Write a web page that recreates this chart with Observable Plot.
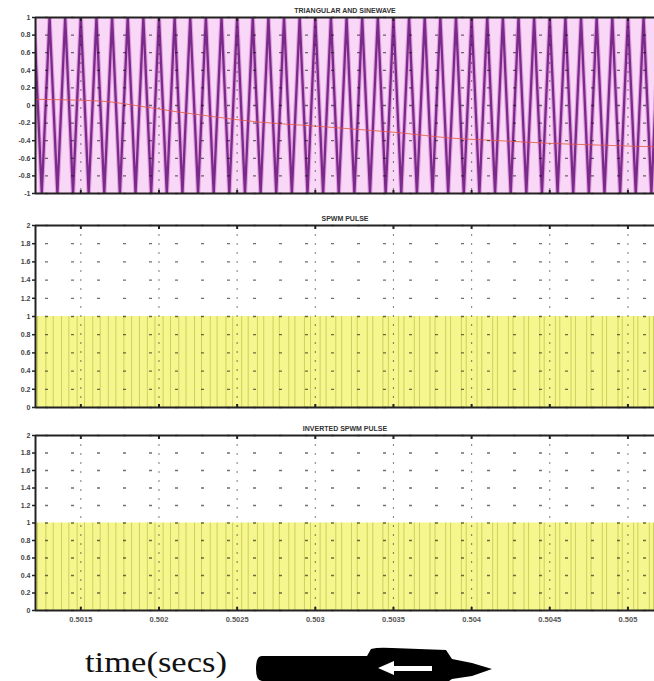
<!DOCTYPE html>
<html><head><meta charset="utf-8">
<script src="https://cdn.jsdelivr.net/npm/d3@7"></script>
<script src="https://cdn.jsdelivr.net/npm/@observablehq/plot@0.6"></script>
<style>
body{margin:0;background:#fff;width:654px;height:681px;overflow:hidden;font-family:"Liberation Sans",Arial,sans-serif}
#wrap{position:relative;width:654px;height:681px;overflow:hidden}
.panel{position:absolute;left:0}
.panel svg{display:block;overflow:visible}
</style></head><body><div id="wrap">
<div id="p1" class="panel" style="top:0"></div>
<div id="p2" class="panel" style="top:205px"></div>
<div id="p3" class="panel" style="top:415px"></div>
<svg id="foot" width="654" height="46" style="position:absolute;left:0;top:635px">
  <text x="85" y="37" font-family="'Liberation Serif','DejaVu Serif',serif" font-size="29" textLength="142" lengthAdjust="spacingAndGlyphs" fill="#111">time(secs)</text>
  <path d="M262,21 L367,21 L371,14 Q378,12 392,13 L446,15 L452,24 L472,28 L492,34 L472,41 L452,44 L446,48 L372,48 L367,46 L262,46 Q256,46 256,34 Q256,21 262,21 Z" fill="#000"/>
  <path d="M378,33 L394,26 L394,31 L432,31 L432,36 L394,36 L394,40 Z" fill="#fff"/>
</svg>
</div>
<script>
// ---------------- data ----------------
const titles = ["TRIANGULAR AND SINEWAVE", "SPWM PULSE", "INVERTED SPWM PULSE"];
const timeDomain = [0.50121, 0.50517];
const xTicks = [0.5015, 0.502, 0.5025, 0.503, 0.5035, 0.504, 0.5045, 0.505];
const xTickLabels = ["0.5015", "0.502", "0.5025", "0.503", "0.5035", "0.504", "0.5045", "0.505"];

const yTicksCarrier = [-1, -0.8, -0.6, -0.4, -0.2, 0, 0.2, 0.4, 0.6, 0.8, 1];
const yLabelsCarrier = ["-1", "-0.8", "-0.6", "-0.4", "-0.2", "0", "0.2", "0.4", "0.6", "0.8", "1"];
const yTicksPulse = [0, 0.2, 0.4, 0.6, 0.8, 1, 1.2, 1.4, 1.6, 1.8, 2];
const yLabelsPulse = ["0", "0.2", "0.4", "0.6", "0.8", "1", "1.2", "1.4", "1.6", "1.8", "2"];

// triangular carrier: times of the +1 peaks and -1 troughs
const carrierPeakTimes = [0.5012,0.5013,0.5014,0.5015,0.5016,0.5017,0.5018,0.5019,0.5020,0.5021,0.5022,0.5023,0.5024,0.5025,0.5026,0.5027,0.5028,0.5029,0.5030,0.5031,0.5032,0.5033,0.5034,0.5035,0.5036,0.5037,0.5038,0.5039,0.5040,0.5041,0.5042,0.5043,0.5044,0.5045,0.5046,0.5047,0.5048,0.5049,0.5050,0.5051,0.5052];
const carrierTroughTimes = [0.50125,0.50135,0.50145,0.50155,0.50165,0.50175,0.50185,0.50195,0.50205,0.50215,0.50225,0.50235,0.50245,0.50255,0.50265,0.50275,0.50285,0.50295,0.50305,0.50315,0.50325,0.50335,0.50345,0.50355,0.50365,0.50375,0.50385,0.50395,0.50405,0.50415,0.50425,0.50435,0.50445,0.50455,0.50465,0.50475,0.50485,0.50495,0.50505,0.50515];

// sine reference (red line)
const refTimes  = [0.50121, 0.50163, 0.50185, 0.50211, 0.50236, 0.50265, 0.50297, 0.50326, 0.50354, 0.50386, 0.50418, 0.50450, 0.50482, 0.50517];
const refValues = [0.07,    0.05,    0.0,     -0.07,   -0.13,   -0.19,   -0.23,   -0.27,   -0.31,   -0.37,   -0.40,   -0.43,   -0.45,   -0.47];

// ---------------- derived tables ----------------
const carrier = [
  ...carrierPeakTimes.map(t => ({t, v: 1})),
  ...carrierTroughTimes.map(t => ({t, v: -1}))
].sort((a, b) => a.t - b.t);
const ref = refTimes.map((t, i) => ({t, v: refValues[i]}));
const refAt = d3.scaleLinear().domain(refTimes).range(refValues);
// switching instants: where the reference crosses each carrier slope
const edges = [];
for (let i = 0; i < carrier.length - 1; i++) {
  const a = carrier[i], b = carrier[i + 1];
  const r = refAt((a.t + b.t) / 2);
  edges.push(a.t + (r - a.v) / (b.v - a.v) * (b.t - a.t));
}
const band = [{x1: carrier[0].t, x2: carrier[carrier.length - 1].t}];

const lab = (ticks, labels) => d => labels[ticks.findIndex(v => Math.abs(v - d) < 1e-9)];
const FONT = "'Liberation Sans', Arial, sans-serif";
const gridYStyle = {stroke: "#111", strokeOpacity: 0.6, strokeDasharray: "3,23", strokeDashoffset: -10, strokeWidth: 1.3};
const gridXStyle = {stroke: "#111", strokeOpacity: 0.5, strokeDasharray: "2,7", strokeWidth: 1.1};

function frameMarks(yDomain, yTicks, yLabels, title, showX) {
  return [
    Plot.gridY(yTicks, gridYStyle),
    Plot.gridX(xTicks, gridXStyle),
    Plot.ruleY([yDomain[0], yDomain[1]], {stroke: "#222", strokeWidth: 2}),
    Plot.ruleX([timeDomain[0]], {stroke: "#222", strokeWidth: 2}),
    Plot.axisY(yTicks, {tickFormat: lab(yTicks, yLabels), tickSize: 3, tickPadding: 2, fontSize: 7, fontWeight: "bold", fill: "#444", stroke: "#222", strokeWidth: 1.5, label: null}),
    Plot.axisX(xTicks, {anchor: "top", tickSize: -3, tickFormat: () => "", stroke: "#222", strokeWidth: 2, label: null}),
    Plot.axisX(xTicks, {anchor: "bottom", tickSize: -3, tickFormat: () => "", stroke: "#222", strokeWidth: 2, label: null}),
    showX ? Plot.axisX(xTicks, {anchor: "bottom", tickFormat: lab(xTicks, xTickLabels), tickSize: 0, tickPadding: 6, fontSize: 7.5, fontWeight: "bold", fill: "#555", label: null}) : null,
    Plot.text([title], {text: d => d, frameAnchor: "top", dy: -9, fontSize: 7, fontWeight: "bold", fill: "#333", fontFamily: FONT, letterSpacing: 0.6})
  ];
}

// panel 1
const p1 = Plot.plot({
  width: 654, height: 205, marginLeft: 35, marginRight: 0, marginTop: 17, marginBottom: 12,
  style: {fontFamily: FONT, background: "transparent"},
  x: {type: "linear", domain: timeDomain, axis: null},
  y: {type: "linear", domain: [-1, 1], axis: null},
  marks: [
    Plot.frame({fill: "#f8d8f6", stroke: null}),
    Plot.line(carrier, {x: "t", y: "v", stroke: "#e2a0e0", strokeWidth: 4.5, clip: true}),
    Plot.line(carrier, {x: "t", y: "v", stroke: "#7a2a88", strokeWidth: 2.3, clip: true}),
    Plot.line(ref, {x: "t", y: "v", stroke: "#e4553c", strokeWidth: 1, strokeOpacity: 0.8, curve: "monotone-x"}),
    ...frameMarks([-1, 1], yTicksCarrier, yLabelsCarrier, titles[0], false)
  ]
});
document.getElementById("p1").append(p1);

function pulsePanel(title, height, marginBottom, showX) {
  return Plot.plot({
    width: 654, height, marginLeft: 35, marginRight: 0, marginTop: 20, marginBottom,
    style: {fontFamily: FONT, background: "transparent"},
    x: {type: "linear", domain: timeDomain, axis: null},
    y: {type: "linear", domain: [0, 2], axis: null},
    marks: [
      Plot.rect(band, {x1: "x1", x2: "x2", y1: 0, y2: 1, fill: "#f6f68e", clip: true}),
      Plot.ruleX(edges, {x: d => d, y1: 0, y2: 1, stroke: "#cfcf5c", strokeWidth: 1, clip: true}),
      ...frameMarks([0, 2], yTicksPulse, yLabelsPulse, title, showX)
    ]
  });
}
document.getElementById("p2").append(pulsePanel(titles[1], 210, 8, false));
document.getElementById("p3").append(pulsePanel(titles[2], 220, 25, true));
</script>
</body></html>
